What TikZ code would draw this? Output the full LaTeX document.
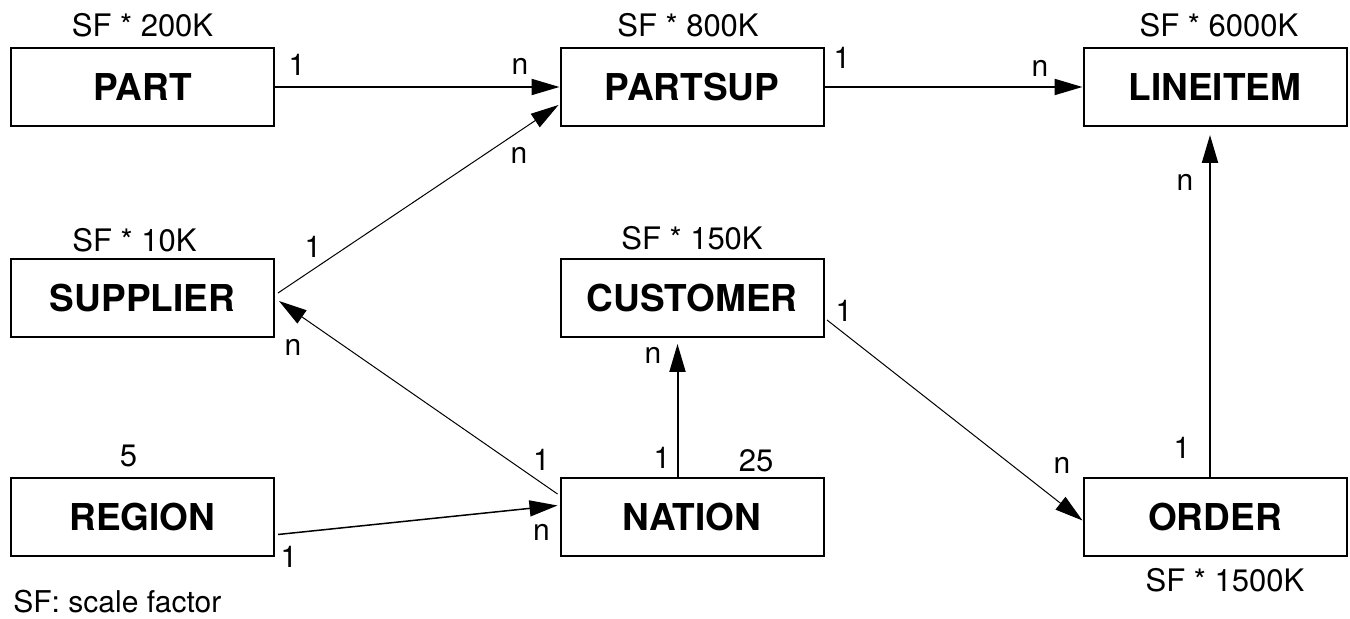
\documentclass[tikz,border=0pt]{standalone}
\usepackage{fontspec}
\setmainfont{TeX Gyre Heros}
\usetikzlibrary{arrows.meta,positioning,calc}
\tikzset{
  tbl/entity/.style={draw, line width=1pt, minimum width=131.5pt, minimum height=39pt, inner sep=0pt, font=\fontsize{18.5}{22}\selectfont\bfseries},
  tbl/size/.style={inner sep=0pt, font=\fontsize{15.5}{18}\selectfont},
  tbl/card/.style={inner sep=0pt, font=\fontsize{15}{18}\selectfont},
  tbl/fk/.style={line width=1pt, -{Triangle[length=14pt,width=8pt]}},
  tbl/fkthin/.style={tbl/fk, line width=0.5pt}
}

\begin{document}
\begin{tikzpicture}[x=0.5pt, y=-0.5pt]
  \useasboundingbox (0,0) rectangle (1350,619);

  % tables
  \node[tbl/entity] (part) at (142.5,87) {PART};
  \node[tbl/entity, right=142.25pt of part] (partsup) {PARTSUP};
  \node[tbl/entity, right=129pt of partsup] (lineitem) {LINEITEM};
  \node[tbl/entity, below=65.5pt of part] (supplier) {SUPPLIER};
  \node[tbl/entity, below=65.5pt of partsup] (customer) {CUSTOMER};
  \node[tbl/entity, below=69.5pt of supplier] (region) {REGION};
  \node[tbl/entity, below=69.5pt of customer] (nation) {NATION};
  \node[tbl/entity, right=129pt of nation] (order) {ORDER};

  % sizes
  \node[tbl/size, above=5pt of part] (partsize) {SF * 200K};
  \node[tbl/size, above=5pt of partsup, xshift=-2pt] (partsupsize) {SF * 800K};
  \node[tbl/size, above=5pt of lineitem, xshift=2pt] (lineitemsize) {SF * 6000K};
  \node[tbl/size, above=3pt of supplier, xshift=-4pt] (suppliersize) {SF * 10K};
  \node[tbl/size, above=4pt of customer] (customersize) {SF * 150K};
  \node[tbl/size, above=5pt of region, xshift=-7pt] (regionsize) {5};
  \node[tbl/size, above=2.5pt of nation, xshift=32pt] (nationsize) {25};
  \node[tbl/size, below=5.5pt of order, xshift=5pt] (ordersize) {SF * 1500K};
  \node[tbl/card, anchor=west] (legend) at (13,602) {SF: scale factor};

  % references
  \draw[tbl/fk] (part.east) -- (partsup.west);
  \draw[tbl/fk] (partsup.east) -- (lineitem.west);
  \draw[tbl/fkthin] ($(supplier.east)+(3,-5)$) -- ($(partsup.west)+(-1,18)$);
  \draw[tbl/fkthin] ($(nation.west)+(-2,-23)$) -- ($(supplier.east)+(4,3)$);
  \draw[tbl/fk, line width=0.75pt] ($(region.east)+(3,17.5)$) -- ($(nation.west)+(-2,-11.5)$);
  \draw[tbl/fk] ($(nation.north)+(-14.5,0)$) -- ($(customer.south)+(-14.5,6)$);
  \draw[tbl/fkthin] ($(customer.east)+(2.5,22)$) -- ($(order.west)+(0,3.5)$);
  \draw[tbl/fk] ($(order.north)+(-5,0)$) -- ($(lineitem.south)+(-5,8)$);

  % cardinalities
  \node[tbl/card] (card-part) at (297,65) {1};
  \node[tbl/card] (card-partsup-a) at (520,66) {n};
  \node[tbl/card] (card-partsup-b) at (519,155) {n};
  \node[tbl/card] (card-supplier-a) at (313,247) {1};
  \node[tbl/card] (card-supplier-b) at (293,347) {n};
  \node[tbl/card] (card-nation-a) at (541.5,460) {1};
  \node[tbl/card] (card-region) at (289,557) {1};
  \node[tbl/card] (card-nation-b) at (541.5,532) {n};
  \node[tbl/card] (card-partsup-c) at (842,58) {1};
  \node[tbl/card] (card-lineitem-a) at (1040,68) {n};
  \node[tbl/card] (card-customer-a) at (653,355) {n};
  \node[tbl/card] (card-nation-c) at (662,458) {1};
  \node[tbl/card] (card-customer-b) at (844,311) {1};
  \node[tbl/card] (card-order-a) at (1062,465) {n};
  \node[tbl/card] (card-lineitem-b) at (1185,182) {n};
  \node[tbl/card] (card-order-b) at (1182,448) {1};
\end{tikzpicture}
\end{document}
